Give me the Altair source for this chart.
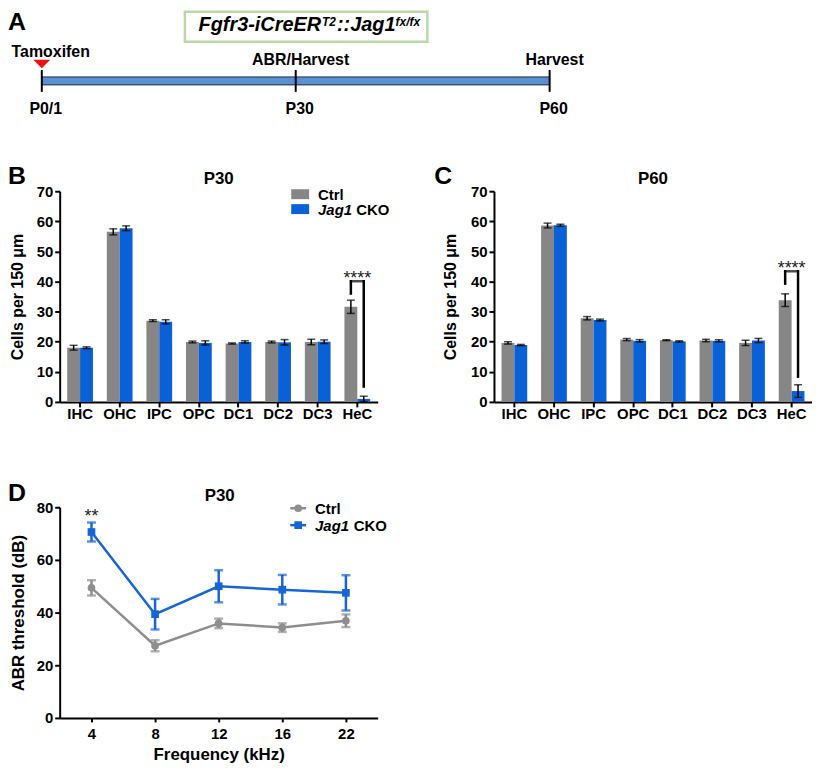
import altair as alt
import pandas as pd

FONT = "Liberation Sans, Arial, Helvetica, sans-serif"
GRAY_BAR = "#868686"
BLUE_BAR = "#0a60d7"
GRAY_LINE = "#8e8e8e"
BLUE_LINE = "#1565d8"

# ---------------- data ----------------
timeline_days = [0, 30, 60]
timeline_labels = ["P0/1", "P30", "P60"]
timeline_events = ["Tamoxifen", "ABR/Harvest", "Harvest"]

cell_types = ["IHC", "OHC", "IPC", "OPC", "DC1", "DC2", "DC3", "HeC"]
groups = ["Ctrl", "Jag1 CKO"]

p30_ctrl_mean = [18.0, 56.5, 27.0, 19.9, 19.4, 19.9, 19.9, 31.6]
p30_ctrl_sem = [0.8, 1.0, 0.3, 0.3, 0.2, 0.3, 0.9, 2.2]
p30_cko_mean = [18.0, 57.7, 26.6, 19.6, 19.9, 19.8, 20.0, 1.0]
p30_cko_sem = [0.3, 0.8, 0.7, 0.7, 0.4, 0.9, 0.6, 0.9]
p30_bracket_low = [36.0, 5.1]
p30_bracket_top = 40.1

p60_ctrl_mean = [19.6, 58.6, 27.8, 20.7, 20.5, 20.4, 19.6, 33.8]
p60_ctrl_sem = [0.4, 0.8, 0.55, 0.35, 0.15, 0.4, 0.9, 2.1]
p60_cko_mean = [18.9, 58.7, 27.2, 20.3, 20.1, 20.3, 20.4, 3.6]
p60_cko_sem = [0.2, 0.3, 0.3, 0.4, 0.2, 0.35, 0.7, 2.1]
p60_bracket_low = [39.3, 8.4]
p60_bracket_top = 43.4

freqs = ["4", "8", "12", "16", "22"]
abr_ctrl_mean = [49.4, 27.4, 35.9, 34.3, 36.9]
abr_ctrl_sem = [2.9, 2.1, 1.8, 1.6, 2.4]
abr_cko_mean = [70.6, 39.4, 50.0, 48.7, 47.5]
abr_cko_sem = [3.6, 5.8, 6.1, 5.6, 6.7]
abr_star_freq = "4"
abr_star_text = "**"


def txt(text, x, y, size=16, weight="bold", style="normal", align="left",
        baseline="alphabetic", color="black"):
    return alt.Chart(pd.DataFrame({"t": [text]})).mark_text(
        font=FONT, fontSize=size, fontWeight=weight, fontStyle=style,
        align=align, baseline=baseline, color=color
    ).encode(x=alt.value(x), y=alt.value(y), text="t:N")


# ---------------- panel A ----------------
xA_scale = alt.Scale(domain=[0, 60], range=[-18, 493])
tl_df = pd.DataFrame({"day": timeline_days, "label": timeline_labels,
                      "event": timeline_events})
span_df = pd.DataFrame({"start": [timeline_days[0]], "end": [timeline_days[-1]]})
xA = alt.X("day:Q", scale=xA_scale, axis=None)

A_box = alt.Chart(pd.DataFrame({"a": [0]})).mark_rect(
    fill="white", stroke="#b8d8a6", strokeWidth=2.5
).encode(x=alt.value(126), x2=alt.value(370), y=alt.value(1.5), y2=alt.value(31.5))
A_bar = alt.Chart(span_df).mark_rect(fill="#5a8fd2", stroke="#1e2d44", strokeWidth=1).encode(
    x=alt.X("start:Q", scale=xA_scale, axis=None), x2="end:Q",
    y=alt.value(67), y2=alt.value(75))
A_ticks = alt.Chart(tl_df).mark_rule(color="black", strokeWidth=2).encode(
    x=xA, y=alt.value(60), y2=alt.value(82))
A_labels = alt.Chart(tl_df).mark_text(
    font=FONT, fontSize=16, fontWeight="bold", dx=4, baseline="alphabetic", color="black"
).encode(x=xA, y=alt.value(104), text="label:N")
A_events = alt.Chart(tl_df).transform_filter(alt.datum.day > 0).mark_text(
    font=FONT, fontSize=16, fontWeight="bold", dx=5, baseline="alphabetic", color="black"
).encode(x=xA, y=alt.value(55), text="event:N")
A_tam = alt.Chart(tl_df).transform_filter(alt.datum.day == 0).mark_text(
    font=FONT, fontSize=16, fontWeight="bold", dx=9, baseline="alphabetic", color="black"
).encode(x=xA, y=alt.value(47), text="event:N")
A_tri = alt.Chart(tl_df).transform_filter(alt.datum.day == 0).mark_point(
    shape="M-1,-0.5L1,-0.5L0,0.5Z", size=289, filled=True, color="#f01010",
    opacity=1, strokeWidth=0
).encode(x=xA, y=alt.value(54))

panelA = alt.layer(
    A_box, A_bar, A_ticks, A_labels, A_events, A_tam, A_tri,
    txt("A", -52, 20, size=25),
    txt("Fgfr3-iCreER", 263, 20.5, size=20, style="italic", align="right"),
    txt("T2", 264, 16, size=12, style="italic"),
    txt("::Jag1", 279, 20.5, size=20, style="italic"),
    txt("fx/fx", 338, 16, size=12, style="italic"),
).properties(width=320, height=76)


# ---------------- panels B and C ----------------
def bar_panel(ctrl_m, ctrl_s, cko_m, cko_s, br_low, br_top, letter, letter_x,
              title, ytitle_x, legend):
    rows = []
    for g, ms, ss in ((groups[0], ctrl_m, ctrl_s), (groups[1], cko_m, cko_s)):
        for c, m, s in zip(cell_types, ms, ss):
            rows.append({"cell": c, "group": g, "mean": m, "lo": m - s, "hi": m + s})
    df = pd.DataFrame(rows)
    x_axis = alt.Axis(labelAngle=0, labelFont=FONT, labelFontSize=15, labelFontWeight="bold",
                      labelColor="black", labelPadding=0, tickSize=5, tickWidth=2,
                      tickColor="black", domainColor="black", domainWidth=2,
                      title=None, grid=False)
    x = alt.X("cell:N", sort=cell_types,
              scale=alt.Scale(paddingInner=0.35, paddingOuter=0.19), axis=x_axis)
    xo = alt.XOffset("group:N", sort=groups, scale=alt.Scale(paddingInner=0, paddingOuter=0))
    y_scale = alt.Scale(domain=[0, 70], nice=False)
    y_axis = alt.Axis(values=list(range(0, 71, 10)), labelFont=FONT, labelFontSize=15,
                      labelFontWeight="bold", labelColor="black", labelPadding=2,
                      tickSize=5, tickWidth=2, tickColor="black", domainColor="black",
                      domainWidth=2, grid=False, title="Cells per 150 μm",
                      titleFont=FONT, titleFontSize=16, titleFontWeight="bold",
                      titleColor="black", titleX=ytitle_x, titleY=106,
                      titleBaseline="middle", titleAlign="center")

    def Y(f):
        return alt.Y(f, scale=y_scale, axis=y_axis)

    color = alt.Color("group:N", scale=alt.Scale(domain=groups, range=[GRAY_BAR, BLUE_BAR]),
                      legend=None)
    base = alt.Chart(df)
    bars = base.mark_bar().encode(x=x, xOffset=xo, y=Y("mean:Q"), color=color)
    err = base.mark_rule(color="black", strokeWidth=1.5).encode(
        x=x, xOffset=xo, y=Y("lo:Q"), y2="hi:Q")
    cap_hi = base.mark_tick(color="black", thickness=1.5, size=8, orient="horizontal").encode(
        x=x, xOffset=xo, y=Y("hi:Q"))
    cap_lo = base.mark_tick(color="black", thickness=1.5, size=8, orient="horizontal").encode(
        x=x, xOffset=xo, y=Y("lo:Q"))

    br_df = pd.DataFrame({"cell": [cell_types[-1]] * 2, "group": groups,
                          "y1": br_low, "y2": [br_top, br_top]})
    legs = alt.Chart(br_df).mark_rule(color="black", strokeWidth=2.5, strokeCap="square").encode(
        x=x, xOffset=xo, y=Y("y1:Q"), y2="y2:Q")
    top_df = pd.DataFrame({"cell": [cell_types[-1]], "y": [br_top], "star": ["****"]})
    topbar = alt.Chart(top_df).mark_tick(color="black", thickness=2.5, size=15,
                                         orient="horizontal").encode(x=x, y=Y("y:Q"))
    stars = alt.Chart(top_df).mark_text(font=FONT, fontSize=18, dy=3, baseline="alphabetic",
                                        color="#222222").encode(x=x, y=Y("y:Q"), text="star:N")

    layers = [bars, err, cap_hi, cap_lo, legs, topbar, stars,
              txt(letter, letter_x, -7, size=25),
              txt(title, 160, -7, size=17, align="center")]
    if legend:
        one = pd.DataFrame({"a": [0]})
        layers += [
            alt.Chart(one).mark_rect(color=GRAY_BAR).encode(
                x=alt.value(233), x2=alt.value(251), y=alt.value(-2), y2=alt.value(8)),
            alt.Chart(one).mark_rect(color=BLUE_BAR).encode(
                x=alt.value(233), x2=alt.value(251), y=alt.value(13), y2=alt.value(23)),
            txt("Ctrl", 260, 8.5, size=15),
            txt("Jag1", 260, 23.5, size=15, style="italic"),
            txt("CKO", 298.5, 23.5, size=15),
        ]
    return alt.layer(*layers).properties(width=320, height=212)


panelB = bar_panel(p30_ctrl_mean, p30_ctrl_sem, p30_cko_mean, p30_cko_sem,
                   p30_bracket_low, p30_bracket_top, "B", -52, "P30", -42.5, True)
panelC = bar_panel(p60_ctrl_mean, p60_ctrl_sem, p60_cko_mean, p60_cko_sem,
                   p60_bracket_low, p60_bracket_top, "C", -60, "P60", -44, False)

# ---------------- panel D ----------------
d_rows = []
for g, ms, ss in ((groups[0], abr_ctrl_mean, abr_ctrl_sem), (groups[1], abr_cko_mean, abr_cko_sem)):
    for f, m, s in zip(freqs, ms, ss):
        d_rows.append({"freq": f, "group": g, "mean": m, "lo": m - s, "hi": m + s})
dfD = pd.DataFrame(d_rows)

xD = alt.X("freq:O", sort=freqs, scale=alt.Scale(type="point", padding=0.5),
           axis=alt.Axis(labelAngle=0, labelFont=FONT, labelFontSize=15, labelFontWeight="bold",
                         labelColor="black", labelPadding=5, tickSize=4, tickWidth=2,
                         tickColor="black", domainColor="black", domainWidth=2, grid=False,
                         title="Frequency (kHz)", titleFont=FONT, titleFontSize=17,
                         titleFontWeight="bold", titleColor="black", titleX=160, titleY=42,
                         titleBaseline="alphabetic", titleAlign="center"))
yD_scale = alt.Scale(domain=[0, 80], nice=False)
yD_axis = alt.Axis(values=[0, 20, 40, 60, 80], labelFont=FONT, labelFontSize=15,
                   labelFontWeight="bold", labelColor="black", labelPadding=2, tickSize=5,
                   tickWidth=2, tickColor="black", domainColor="black", domainWidth=2,
                   grid=False, title="ABR threshold (dB)", titleFont=FONT, titleFontSize=17,
                   titleFontWeight="bold", titleColor="black", titleX=-41.5, titleY=106,
                   titleBaseline="middle", titleAlign="center")


def YD(f):
    return alt.Y(f, scale=yD_scale, axis=yD_axis)


colorD = alt.Color("group:N", scale=alt.Scale(domain=groups, range=[GRAY_LINE, BLUE_LINE]),
                   legend=None)
shapeD = alt.Shape("group:N", scale=alt.Scale(domain=groups, range=["circle", "square"]),
                   legend=None)
baseD = alt.Chart(dfD)
linesD = baseD.mark_line(strokeWidth=2.5).encode(x=xD, y=YD("mean:Q"), color=colorD)
errD = baseD.mark_rule(strokeWidth=2.5).encode(x=xD, y=YD("lo:Q"), y2="hi:Q", color=colorD)
capHiD = baseD.mark_tick(size=9, thickness=2.5, orient="horizontal").encode(
    x=xD, y=YD("hi:Q"), color=colorD)
capLoD = baseD.mark_tick(size=9, thickness=2.5, orient="horizontal").encode(
    x=xD, y=YD("lo:Q"), color=colorD)
ptsD = baseD.mark_point(filled=True, size=60, opacity=1).encode(
    x=xD, y=YD("mean:Q"), color=colorD, shape=shapeD)
star_idx = freqs.index(abr_star_freq)
star_df = pd.DataFrame({"freq": [abr_star_freq],
                        "y": [abr_cko_mean[star_idx] + abr_cko_sem[star_idx]],
                        "s": [abr_star_text]})
starsD = alt.Chart(star_df).mark_text(font=FONT, fontSize=18, dy=-1, baseline="alphabetic",
                                      color="#222222").encode(x=xD, y=YD("y:Q"), text="s:N")
one = pd.DataFrame({"a": [0]})
legD = [
    alt.Chart(one).mark_rule(color=GRAY_LINE, strokeWidth=2.5).encode(
        x=alt.value(232), x2=alt.value(248), y=alt.value(1)),
    alt.Chart(one).mark_point(color=GRAY_LINE, filled=True, size=60, opacity=1, shape="circle").encode(
        x=alt.value(240), y=alt.value(1)),
    alt.Chart(one).mark_rule(color=BLUE_LINE, strokeWidth=2.5).encode(
        x=alt.value(232), x2=alt.value(248), y=alt.value(18)),
    alt.Chart(one).mark_point(color=BLUE_LINE, filled=True, size=60, opacity=1, shape="square").encode(
        x=alt.value(240), y=alt.value(18)),
    txt("Ctrl", 257, 7, size=15),
    txt("Jag1", 257, 23.5, size=15, style="italic"),
    txt("CKO", 296, 23.5, size=15),
]
panelD = alt.layer(
    linesD, errD, capHiD, capLoD, ptsD, starsD, *legD,
    txt("D", -52, -6, size=25),
    txt("P30", 161, -6, size=17, align="center"),
).properties(width=320, height=212)

spacer = alt.Chart(pd.DataFrame({"a": [0]})).mark_point(opacity=0, size=1).encode(
    x=alt.value(5), y=alt.value(5)).properties(width=10, height=10)

chart = alt.concat(
    panelA, spacer, panelB, panelC, panelD,
    columns=2, spacing={"row": 106, "column": 117}, bounds="flush", align="each"
).resolve_scale(
    color="independent", shape="independent"
).properties(padding=0).configure_view(stroke=None)

chart.save("out.html", embed_options={"renderer": "svg", "actions": False})
